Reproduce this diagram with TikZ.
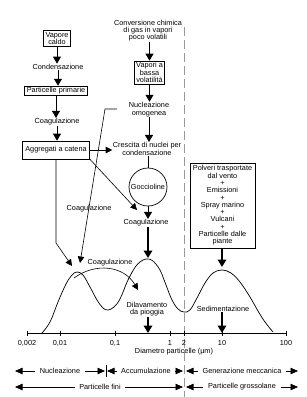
\documentclass[tikz,border=0pt]{standalone}
\usepackage{fontspec}
\setmainfont{Liberation Sans}
\usetikzlibrary{arrows.meta}
\begin{document}
\begin{tikzpicture}[x=1pt,y=-1pt,
 lab/.style={font=\fontsize{7.3}{7.3}\selectfont, align=center, inner sep=0.5pt},
 bx/.style={lab, draw, line width=0.7pt, inner xsep=2pt, inner ysep=1.5pt},
 arr/.style={line width=0.9pt, -{Triangle[length=7pt,width=8pt]}},
 tarr/.style={line width=1.9pt, -{Triangle[length=7.5pt,width=8.5pt]}},
 ln/.style={line width=0.7pt},
 sarr/.style={line width=0.6pt, -{Triangle[length=6.5pt,width=6.5pt]}},
 barr/.style={line width=0.6pt, -{Triangle[length=7.5pt,width=6.5pt]}},
 tick/.style={font=\fontsize{7.3}{7.3}\selectfont, inner sep=0.5pt},
]
\useasboundingbox (0,0) rectangle (307,397);

% dashed divider
\draw[gray!80, line width=0.5pt, dash pattern=on 9pt off 4pt] (184,27) -- (184,397);

% left column
\node[bx] (vc) at (57,38.5) {Vapore\\caldo};
\node[lab] (cond) at (58,67) {Condensazione};
\node[bx, inner ysep=1pt] (pp) at (56,90.5) {Particelle primarie};
\node[lab] (co1) at (57,122) {Coagulazione};
\node[bx, minimum height=18pt, inner xsep=3pt] (agg) at (56,150) {Aggregati a catena};

% middle column
\node[lab] (conv) at (148,30.5) {Conversione chimica\\di gas in vapori\\poco volatili};
\node[bx] (vbv) at (149.5,72.5) {Vapori a\\bassa\\volatilità};
\node[lab] (nuc) at (149,109.5) {Nucleazione\\omogenea};
\node[lab] (cre) at (147,149) {Crescita di nuclei per\\condensazione};
\node[lab, draw, line width=0.7pt, circle, minimum size=38pt, inner sep=0pt] (goc) at (148,187) {Goccioline};
\node[lab] (co2) at (146,223) {Coagulazione};

% right box
\node[bx, inner xsep=3pt, inner ysep=2.5pt] (src) at (222.5,205.5) {Polveri trasportate\\dal vento\\+\\Emissioni\\+\\Spray marino\\+\\Vulcani\\+\\Particelle dalle\\piante};

% free labels
\node[lab] (co3) at (89,209) {Coagulazione};
\node[lab] (co4) at (110,263) {Coagulazione};
\node[lab] (dil) at (147,309) {Dilavamento\\da pioggia};
\node[lab] (sed) at (223,309) {Sedimentazione};
\node[lab] (dia) at (174,352) {Diametro particelle (μm)};

% coordinates
\coordinate (a1) at (56,243);
\coordinate (a2) at (72,266);
\coordinate (g1) at (137,210);
\coordinate (n0) at (117,109);
\coordinate (n1) at (105,109);
\coordinate (n2) at (80,263);
\coordinate (pk2) at (148,258);
\coordinate (pk3) at (222,267);
\coordinate (ax1) at (148,333);
\coordinate (ax2) at (222,333);
\coordinate (c0) at (74,278);
\coordinate (c3) at (138,290);

% flow arrows
\draw[arr] (vc.south) -- (vc.south |- cond.north);
\draw[arr] (cond.south) -- (cond.south |- pp.north);
\draw[arr] (pp.south) -- (pp.south |- co1.north);
\draw[arr] (co1.south) -- (co1.south |- agg.north);
\draw[arr] (conv.south -| vbv.north) -- (vbv.north);
\draw[arr] (vbv.south) -- (vbv.south |- nuc.north);
\draw[arr] (nuc.south) -- (nuc.south |- cre.north);
\draw[sarr] (agg.east) -- (cre.west |- agg.east);
\draw[ln] (cre.south -| goc.north) -- (goc.north);
\draw[arr] (goc.south) -- (goc.south |- co2.north);
\draw[tarr] (co2.south -| pk2) -- (pk2);
\draw[tarr] (src.south -| pk3) -- (pk3);
\draw[tarr] (dil.south -| ax1) -- (ax1);
\draw[tarr] (sed.south -| ax2) -- (ax2);

\draw[sarr] (agg.south) -- (a1) -- (a2);
\draw[sarr] (agg.south east) -- (g1);
\draw[sarr] (n0) -- (n1) -- (n2);
\draw[sarr] (c0) .. controls (96,262) and (124,266) .. (c3);

% axis
\draw[ln] (27,333) -- (286,333);
\foreach \x/\t in {27/{0,002},60/{0,01},115/{0,1},170/1,184/2,222/10,286/100}{
  \draw[ln] (\x,330.5) -- (\x,335.5);
  \node[tick] at (\x,343) {\t};
}

% size distribution
\draw[line width=0.7pt] plot[smooth, tension=0.6] coordinates {
 (42,333) (50,322) (58,302) (66,284) (72,275) (77,272) (83,275) (90,287)
 (97,300) (103,308) (108,310) (114,307) (120,299) (128,280) (136,266)
 (143,260) (148,259) (153,261) (160,270) (166,285) (172,300) (178,309)
 (184,312) (190,310) (197,298) (205,283) (213,273) (222,270) (231,273)
 (240,282) (250,297) (258,311) (265,322) (273,332)};

% bottom ranges
\node[lab] (nucl) at (60,371) {Nucleazione};
\node[lab] (acc) at (146,371) {Accumulazione};
\node[lab] (gen) at (242,371) {Generazione meccanica};
\node[lab] (fin) at (100,387) {Particelle fini};
\node[lab] (gro) at (242,387) {Particelle grossolane};
\coordinate (l1) at (15,371);
\coordinate (l2) at (105,371);
\coordinate (l3) at (107,371);
\coordinate (l4) at (183,371);
\coordinate (l5) at (186,371);
\coordinate (l6) at (298,371);
\coordinate (m1) at (15,387);
\coordinate (m2) at (183,387);
\coordinate (m3) at (186,387);
\coordinate (m4) at (298,387);
\draw[ln] (106,365) -- (106,377);
\draw[barr] ([xshift=-4pt]nucl.west) -- (l1);
\draw[barr] ([xshift=4pt]nucl.east) -- (l2);
\draw[barr] ([xshift=-4pt]acc.west) -- (l3);
\draw[barr] ([xshift=4pt]acc.east) -- (l4);
\draw[barr] ([xshift=-4pt]gen.west) -- (l5);
\draw[barr] ([xshift=4pt]gen.east) -- (l6);
\draw[barr] ([xshift=-4pt]fin.west) -- (m1);
\draw[barr] ([xshift=4pt]fin.east) -- (m2);
\draw[barr] ([xshift=-4pt]gro.west) -- (m3);
\draw[barr] ([xshift=4pt]gro.east) -- (m4);
\end{tikzpicture}
\end{document}
